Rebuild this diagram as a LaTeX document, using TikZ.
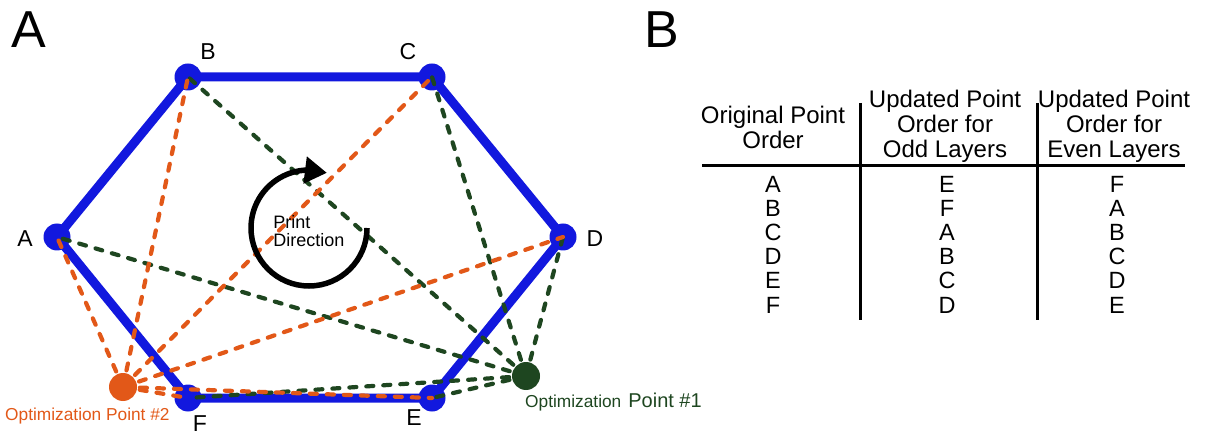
\documentclass[tikz,border=0pt]{standalone}
\usepackage{fontspec}
\setmainfont{Liberation Sans}
\usetikzlibrary{arrows.meta,bending}

\definecolor{ptblue}{RGB}{18,24,222}
\definecolor{ptorange}{RGB}{226,88,24}
\definecolor{ptgreen}{RGB}{30,70,32}

\begin{document}
\begin{tikzpicture}[x=1pt, y=-1pt,
  edge/.style={ptblue, line width=9pt, line join=round},
  vtx/.style={circle, fill=ptblue, minimum size=27pt, inner sep=0pt},
  optpt/.style={circle, minimum size=28pt, inner sep=0pt},
  vlabel/.style={font=\fontsize{23}{26}\selectfont, inner sep=0pt},
  orangedash/.style={ptorange, line width=4.2pt, line cap=round, dash pattern=on 7pt off 10pt},
  greendash/.style={ptgreen, line width=4.2pt, line cap=round, dash pattern=on 7pt off 10pt},
  hdr/.style={font=\fontsize{24}{25}\selectfont, align=center, inner sep=0pt},
  cell/.style={font=\fontsize{23.5}{24}\selectfont, inner sep=0pt},
  rule/.style={line width=3pt}]

\useasboundingbox (0,0) rectangle (1225,435);

% ── Panel letters ──
\node[font=\fontsize{52}{60}\selectfont, inner sep=0pt] (panelA) at (29,30) {A};
\node[font=\fontsize{52}{60}\selectfont, inner sep=0pt] (panelB) at (662,30) {B};

% ── Hexagon path ──
\node[vtx] (A) at (57,237) {};
\node[vtx] (B) at (188,77) {};
\node[vtx] (C) at (432,77) {};
\node[vtx] (D) at (563,237) {};
\node[vtx] (E) at (432,398) {};
\node[vtx] (F) at (188,398) {};
\draw[edge] (A.center) -- (B.center) -- (C.center) -- (D.center) -- (E.center) -- (F.center) -- cycle;

\node[vlabel] (labA) at (25,239) {A};
\node[vlabel] (labB) at (208,52) {B};
\node[vlabel] (labC) at (408,52) {C};
\node[vlabel] (labD) at (595,239) {D};
\node[vlabel] (labE) at (414,418) {E};
\node[vlabel] (labF) at (200,424) {F};

% ── Optimization points ──
\node[optpt, fill=ptgreen] (opt1) at (526,376) {};
\node[optpt, fill=ptorange] (opt2) at (123,387) {};

\foreach \v in {A,B,C,D,E,F}
  \draw[greendash] (opt1.center) -- (\v.center);
\foreach \v in {A,B,C,D,E,F}
  \draw[orangedash] (opt2.center) -- (\v.center);

\node[text=ptgreen, anchor=base west, inner sep=0pt] (lab1) at (525,407)
  {{\fontsize{17.3}{20}\selectfont Optimization}\hspace{7pt}{\fontsize{20}{22}\selectfont Point \#1}};
\node[text=ptorange, font=\fontsize{17.3}{20}\selectfont, anchor=base west, inner sep=0pt] (lab2) at (5,420) {Optimization Point \#2};

% ── Print direction ──
\draw[line width=5.5pt, -{Triangle[length=22pt, width=26pt, flex]}] (367,228) arc[start angle=0, end angle=288, radius=58];
\node[font=\fontsize{18}{18}\selectfont, align=left, inner sep=0pt] (printdir) at (309,231) {Print\\Direction};

% ── Table ──
\node[hdr] (h1) at (773,127) {Original Point\\Order};
\node[hdr] (h2) at (945,126) {Updated Point\\Order for\\Odd Layers};
\node[hdr] (h3) at (1114,126) {Updated Point\\Order for\\Even Layers};

\draw[rule] (702,166) -- (1185,166);
\draw[rule] (860,103) -- (860,320);
\draw[rule] (1037,103) -- (1037,320);

\foreach \a/\b/\c [count=\i] in {A/E/F, B/F/A, C/A/B, D/B/C, E/C/D, F/D/E} {
  \node[cell, anchor=base] (o\i) at (773, 168+24.2*\i) {\a};
  \node[cell, anchor=base] (d\i) at (947, 168+24.2*\i) {\b};
  \node[cell, anchor=base] (e\i) at (1117, 168+24.2*\i) {\c};
}

\end{tikzpicture}
\end{document}
